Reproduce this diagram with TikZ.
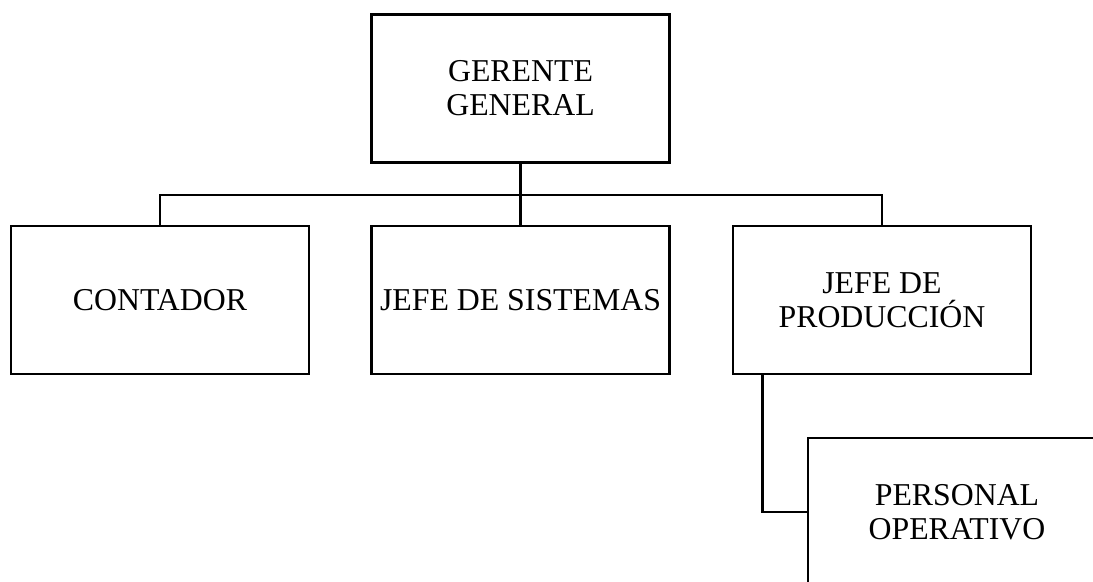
\documentclass[tikz,border=0pt]{standalone}
\usepackage{fontspec}
\setmainfont{Liberation Serif}
\usetikzlibrary{calc}
\tikzset{
  cargo/.style={draw, line width=1.5pt, minimum width=5.96cm, minimum height=2.96cm,
    inner sep=0pt, align=center, font=\fontsize{18.1}{19.3}\selectfont},
  enlace/.style={line width=1.5pt}
}

\begin{document}
\begin{tikzpicture}[x=0.02cm,y=-0.02cm]
			% area of the page
			\useasboundingbox (0,0) rectangle (1093,582);
			\clip (0,0) rectangle (1093,582);
			% boxes
			\node[cargo] (gg) at (520.5,88.5) {GERENTE\\GENERAL};
			\node[cargo] (ct) at (160,300) {CONTADOR};
			\node[cargo] (js) at (520.5,300) {JEFE DE SISTEMAS};
			\node[cargo] (jp) at (882,300) {JEFE DE\\PRODUCCIÓN};
			\node[cargo] (po) at (957,512) {PERSONAL\\OPERATIVO};
			% connectors
			\coordinate (bar) at (520.5,195);
			\draw[enlace] (gg.south) -- (js.north);
			\draw[enlace] (ct.north) |- (bar) -| (jp.north);
			\draw[enlace] ($(jp.south west)+(31,0)$) |- (po.west);
		\end{tikzpicture}
\end{document}
